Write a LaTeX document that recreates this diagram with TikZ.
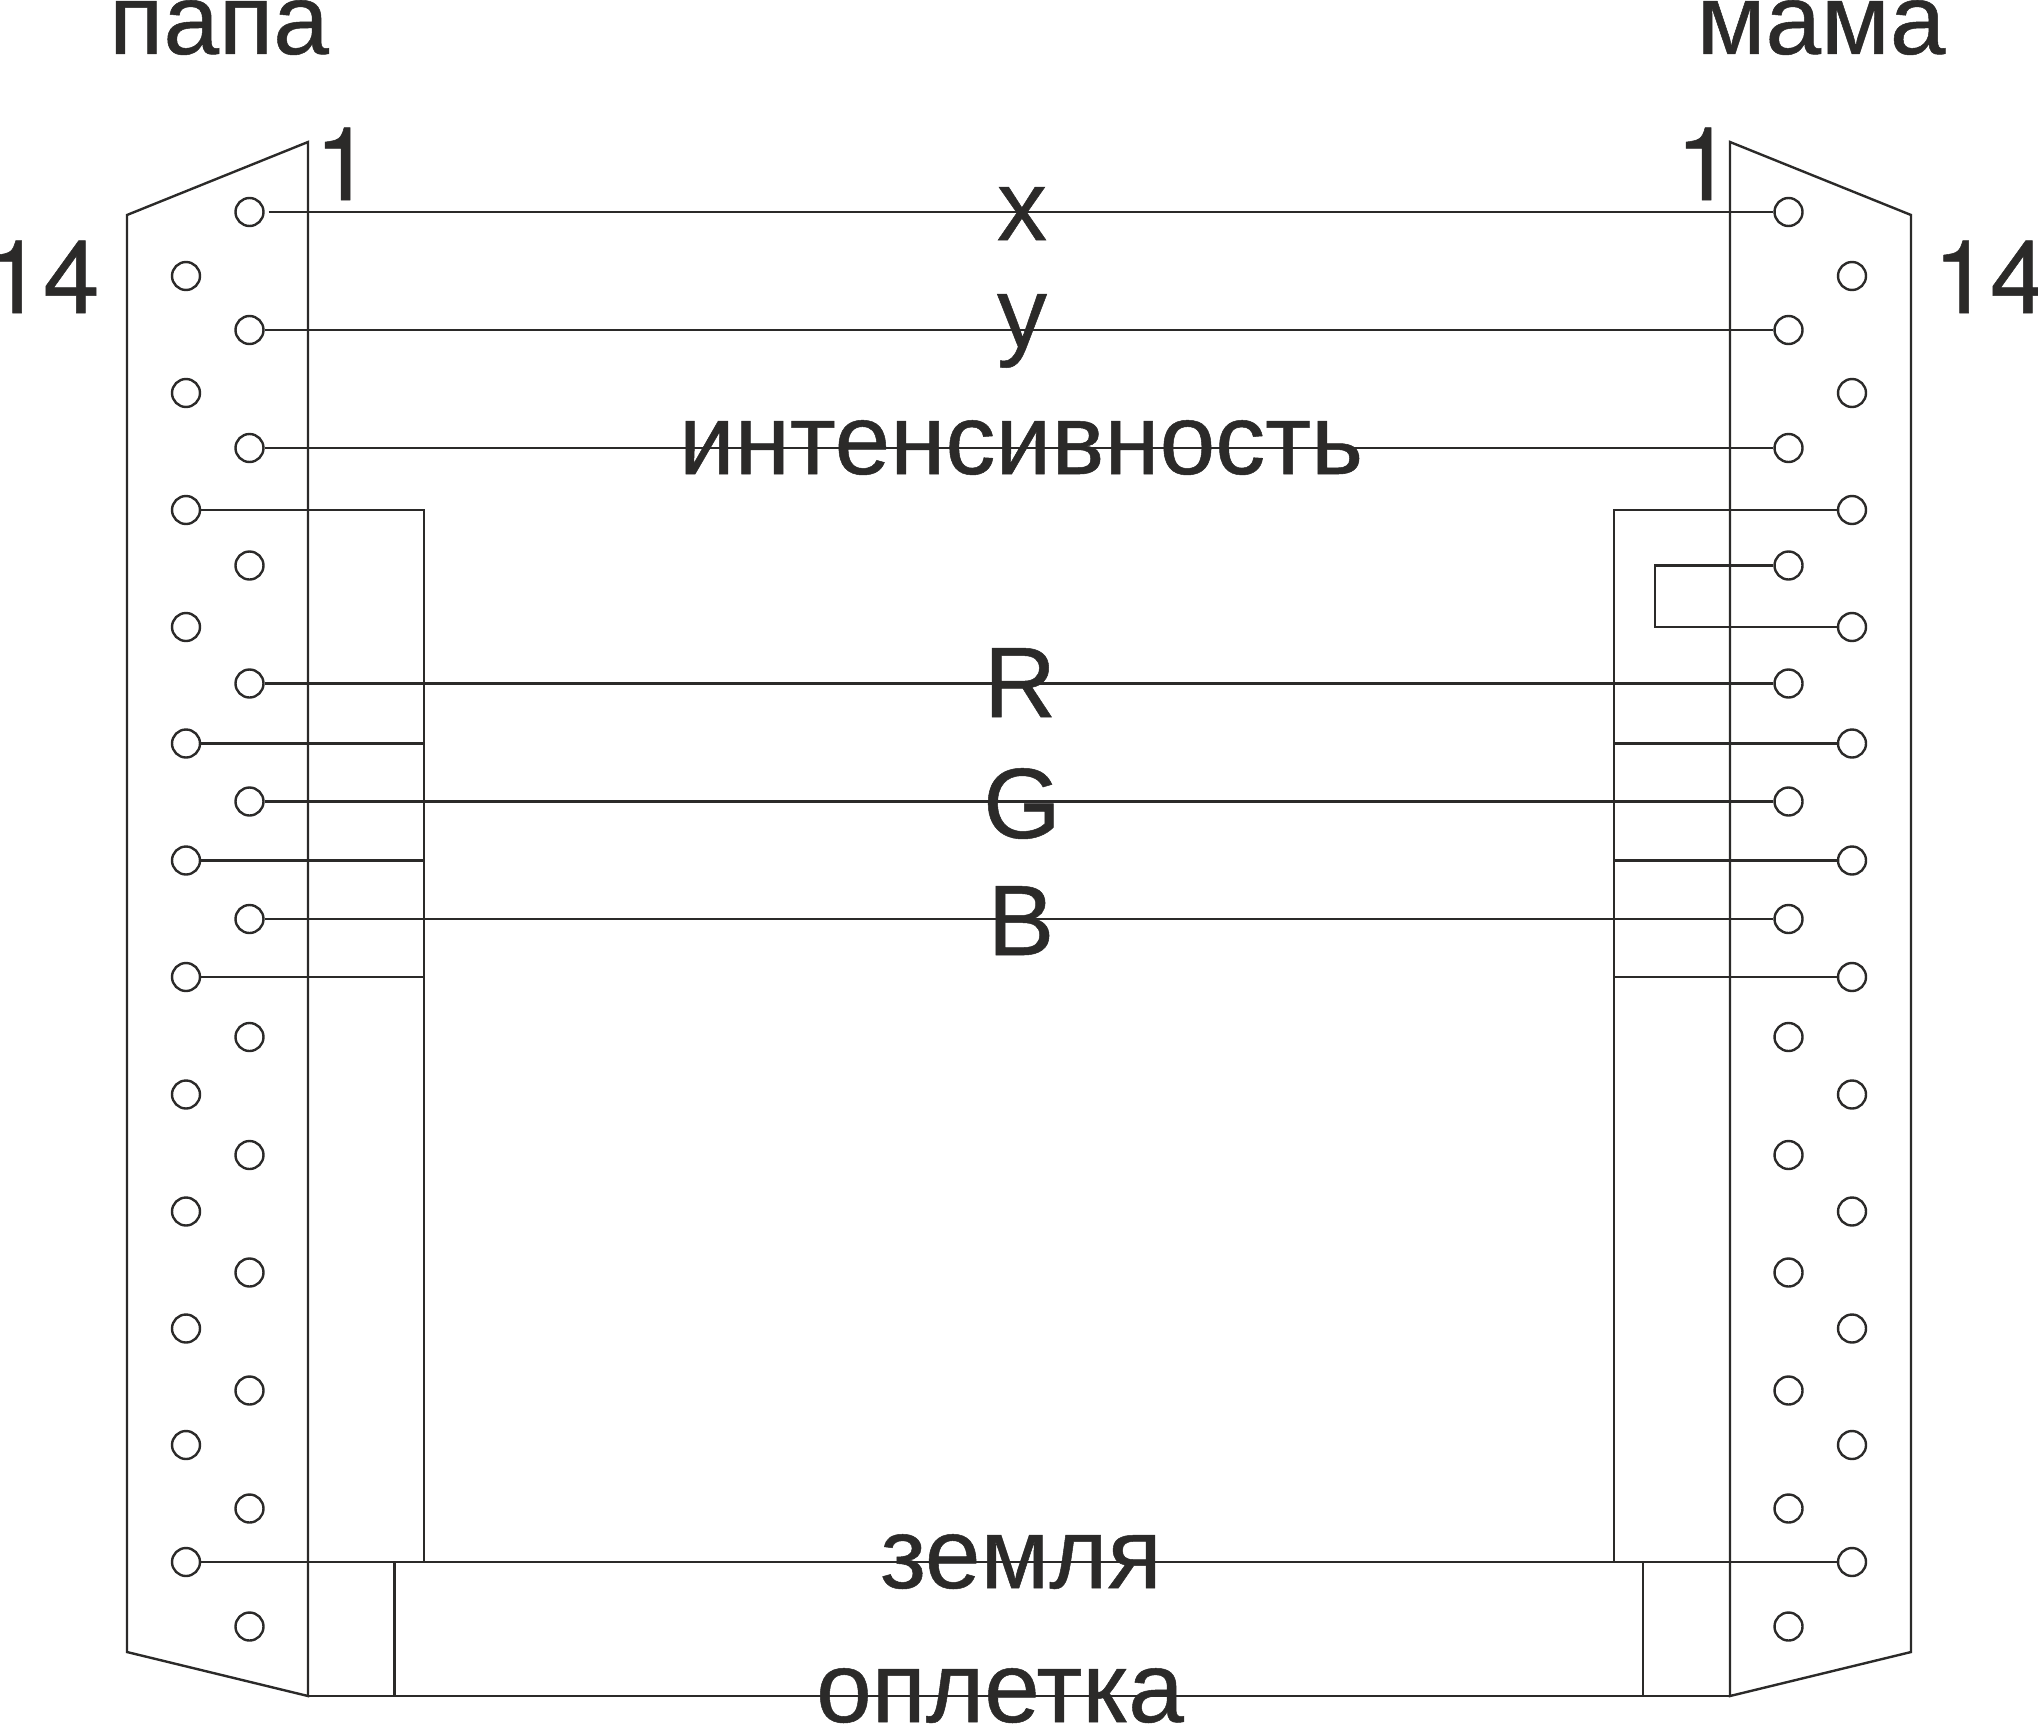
\documentclass[tikz,border=0pt]{standalone}
\usepackage{fontspec}
\setmainfont{Liberation Sans}[FakeBold=0.5]
\newfontfamily\digitfont{TeX Gyre Heros}[FakeBold=0.5]
\definecolor{ink}{HTML}{2B2A29}
\tikzset{
  pin/.style={draw=ink,circle,line width=1.2pt,minimum size=14pt,inner sep=0pt},
  wire/.style={draw=ink,line width=1.2pt,line join=miter},
  lbl/.style={text=ink,anchor=base,inner sep=0pt,font=\fontsize{50}{50}\selectfont},
  num/.style={text=ink,anchor=base,inner sep=0pt,font=\digitfont\fontsize{51}{51}\selectfont}
}
\begin{document}
\begin{tikzpicture}[x=0.5pt,y=-0.5pt]
\useasboundingbox (0,0) rectangle (2038,1723);
% connector bodies
\coordinate (LTo) at (127,215); \coordinate (LTi) at (308,142);
\coordinate (LBo) at (127,1652); \coordinate (LBi) at (308,1696);
\coordinate (RTo) at (1911,215); \coordinate (RTi) at (1730,142);
\coordinate (RBo) at (1911,1652); \coordinate (RBi) at (1730,1696);
\draw[wire] (LTi) -- (LTo) -- (LBo) -- (LBi) -- cycle;
\draw[wire] (RTi) -- (RTo) -- (RBo) -- (RBi) -- cycle;
% pins
\foreach \n/\y in {1/212,2/330,3/448,4/565.5,5/683.5,6/801.5,7/919,8/1037,9/1155,10/1272.5,11/1390.5,12/1508.5,13/1626.5}{
  \node[pin] (La\n) at (249.5,\y) {};
  \node[pin] (Ra\n) at (1788.5,\y) {};
}
\foreach \n/\y in {1/276,2/393,3/510,4/627,5/743.5,6/860.5,7/977,8/1094.5,9/1211.5,10/1328.5,11/1445,12/1562}{
  \node[pin] (Lb\n) at (186,\y) {};
  \node[pin] (Rb\n) at (1852,\y) {};
}
% signal wires
\draw[wire] ([xshift=2pt]La1.east) -- (Ra1.west);
\foreach \n in {2,3,5,6,7}{\draw[wire] (La\n.east) -- (Ra\n.west);}
% ground bus
\coordinate (LbusT) at (424,510); \coordinate (LbusB) at (424,1562);
\coordinate (RbusT) at (1614,510); \coordinate (RbusB) at (1614,1562);
\draw[wire] (Lb3.east) -- (LbusT) -- (LbusB);
\draw[wire] (Rb3.west) -- (RbusT) -- (RbusB);
\foreach \n in {5,6,7}{
  \draw[wire] (Lb\n.east) -- (LbusT |- Lb\n);
  \draw[wire] (Rb\n.west) -- (RbusT |- Rb\n);
}
\draw[wire] (Lb12.east) -- (Rb12.west);
% loop
\coordinate (Lp) at (1655,565.5);
\draw[wire] (Ra4.west) -- (Lp) -- (Lp |- Rb4) -- (Rb4.west);
% braid
\coordinate (BrL) at (394.5,1562); \coordinate (BrR) at (1643,1562);
\draw[wire] (LBi) -- (RBi);
\draw[wire] (BrL) -- (BrL |- LBi);
\draw[wire] (BrR) -- (BrR |- RBi);
% labels
\node[lbl] (papa) at (219,54) {папа};
\node[lbl] (mama) at (1821,54) {мама};
\node[num] (oneL) at (343,200) {1};
\node[num] (oneR) at (1704,200) {1};
\node[num] (ftL) at (43,313) {14};
\node[num] (ftR) at (1990,313) {14};
\node[lbl] (tx) at (1022,240) {x};
\node[lbl] (ty) at (1022,347) {y};
\node[lbl] (tint) at (1021,474) {интенсивность};
\node[lbl] (tR) at (1020,717) {R};
\node[lbl] (tG) at (1022,838) {G};
\node[lbl] (tB) at (1021,955) {B};
\node[lbl] (tz) at (1021,1588) {земля};
\node[lbl] (to) at (1000,1722) {оплетка};
\end{tikzpicture}
\end{document}
